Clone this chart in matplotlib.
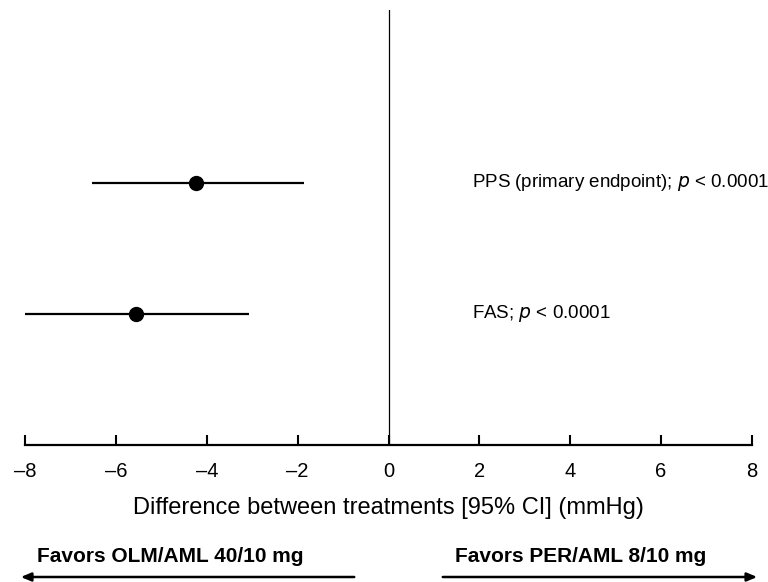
import matplotlib
matplotlib.use("Agg")
import matplotlib.pyplot as plt

plt.rcParams['font.family'] = ['Liberation Sans', 'DejaVu Sans']

labels = ["PPS (primary endpoint); ", "FAS; "]
estimates = [-4.23, -5.55]
ci_low = [-6.52, -8.0]
ci_high = [-1.85, -3.06]
ypos = [2, 1]
xticks = [-8, -6, -4, -2, 0, 2, 4, 6, 8]

fig = plt.figure(figsize=(7.68, 5.82), dpi=100)
ax = fig.add_axes([25/768, 1-445/582, (752-25)/768, (445-10)/582])

for lo, hi, est, y in zip(ci_low, ci_high, estimates, ypos):
    ax.plot([lo, hi], [y, y], color='black', lw=1.6, solid_capstyle='butt', zorder=2)
    ax.plot(est, y, 'o', color='black', markersize=10, zorder=3)

for lab, y in zip(labels, ypos):
    ax.text(1.84, y, lab + r"$\it{p}$" + " < 0.0001", fontsize=13.5, va='center', ha='left')

ax.axvline(0, color='black', lw=0.9)
ax.set_xlim(-8, 8)
ax.set_ylim(0, 3.32)
ax.set_xticks(xticks)
ax.set_xticklabels([str(t).replace('-', '\u2013') for t in xticks], fontsize=14.5)
ax.tick_params(axis='x', direction='in', length=7, width=1.5, pad=12)
ax.set_yticks([])
for s in ['left', 'right', 'top']:
    ax.spines[s].set_visible(False)
ax.spines['bottom'].set_linewidth(1.6)
ax.set_xlabel("Difference between treatments [95% CI] (mmHg)", fontsize=17, labelpad=12)

# Direction annotations
fig.text(37/768, 1-557/582, "Favors OLM/AML 40/10 mg", fontsize=15, fontweight='bold', va='center', ha='left')
fig.text(455/768, 1-557/582, "Favors PER/AML 8/10 mg", fontsize=15, fontweight='bold', va='center', ha='left')
fig.patches.append(matplotlib.patches.FancyArrowPatch((357/768, 1-577/582), (18/768, 1-577/582),
    transform=fig.transFigure, arrowstyle='-|>,head_length=6,head_width=2.5', color='black', lw=1.8, mutation_scale=1))
fig.patches.append(matplotlib.patches.FancyArrowPatch((440/768, 1-577/582), (760/768, 1-577/582),
    transform=fig.transFigure, arrowstyle='-|>,head_length=6,head_width=2.5', color='black', lw=1.8, mutation_scale=1))

fig.savefig("out.png", dpi=100)
